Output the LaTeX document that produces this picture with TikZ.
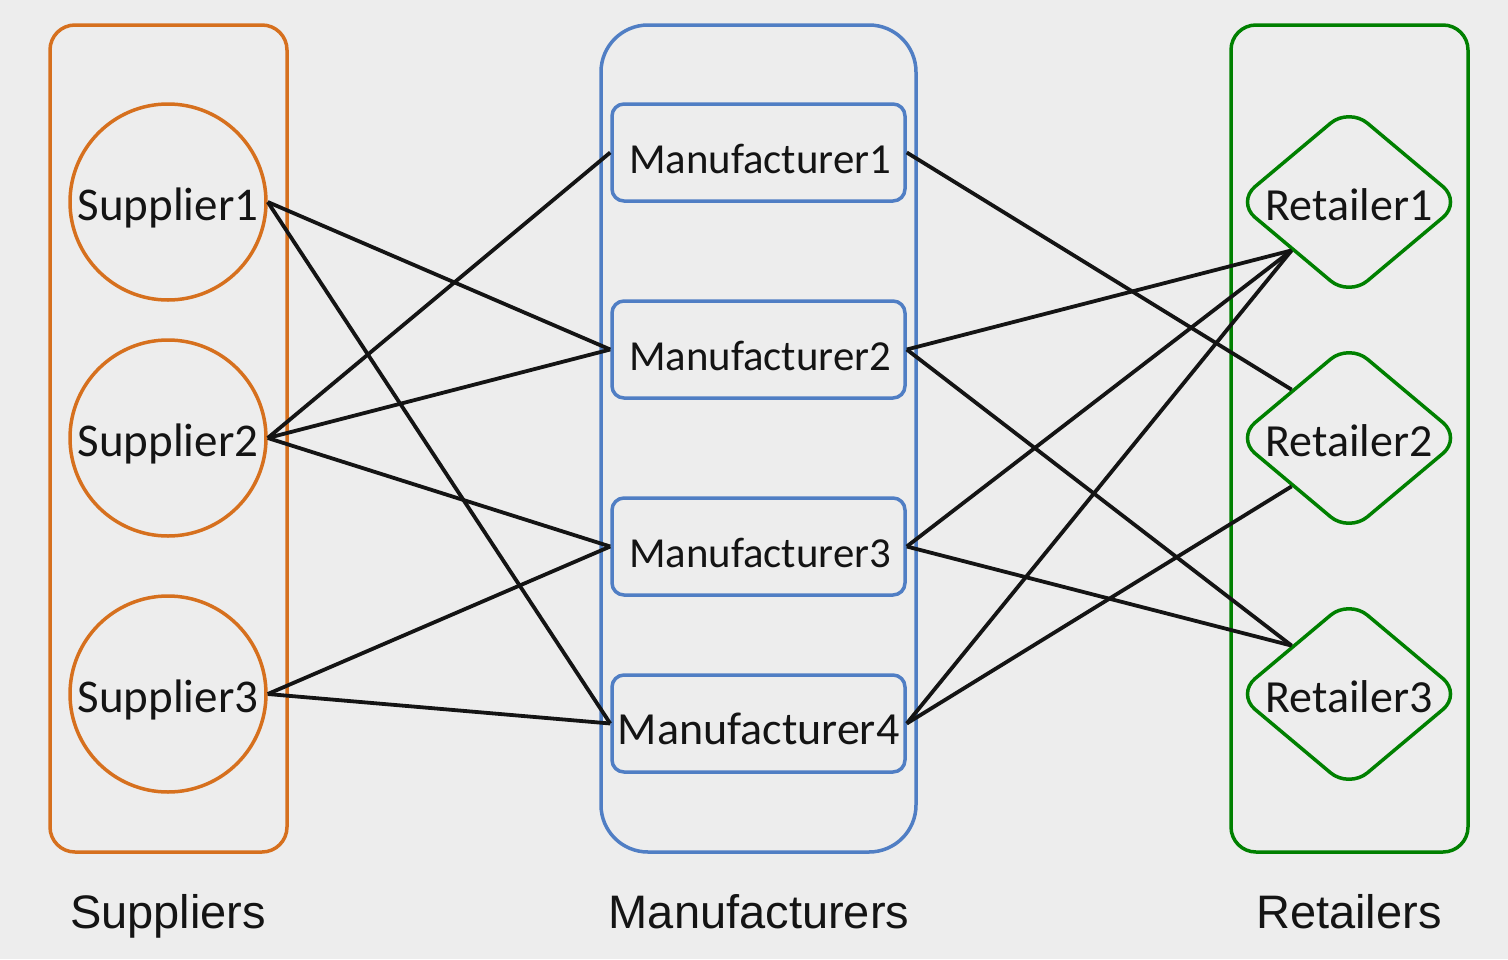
\documentclass[tikz,border=0pt]{standalone}
\usepackage{fontspec}
\setmainfont{Carlito}
\newfontfamily\labelfont{Liberation Sans}
\usepackage{xcolor}
\definecolor{bggrey}{RGB}{237,237,237}
\definecolor{inkblack}{RGB}{20,20,20}
\definecolor{suporange}{RGB}{214,112,30}
\definecolor{manblue}{RGB}{80,126,196}
\definecolor{retgreen}{RGB}{0,128,0}
\usetikzlibrary{positioning,shapes.geometric}

\begin{document}
\begin{tikzpicture}[
  x=1pt,y=-1pt,
  every node/.style={text=inkblack},
  groupbox/.style={draw,line width=3.5pt,minimum width=237pt,minimum height=827pt,inner sep=0pt},
  suppnode/.style={circle,draw=suporange,line width=3.5pt,minimum size=196pt,inner sep=0pt,
                   text height=36pt,text depth=0pt,font=\fontsize{47}{50}\selectfont},
  mannode/.style={draw=manblue,rounded corners=12pt,line width=3.5pt,minimum width=293pt,
                  minimum height=97pt,inner sep=0pt,text height=41pt,text depth=0pt,
                  font=\fontsize{42.8}{46}\selectfont},
  retnode/.style={diamond,draw=retgreen,rounded corners=24pt,line width=3.5pt,minimum width=226pt,
                  minimum height=190pt,inner sep=0pt,text height=36pt,text depth=0pt,
                  font=\fontsize{46}{50}\selectfont},
  grouplabel/.style={anchor=base,font=\labelfont\fontsize{47}{50}\selectfont},
  link/.style={draw=inkblack,line width=3.8pt},
]
  \fill[bggrey] (0,0) rectangle (1508,959);

  % Groups
  \node[groupbox,draw=suporange,rounded corners=25pt] (supgroup) at (168.5,438.5) {};
  \node[groupbox,draw=manblue,rounded corners=47pt,minimum width=315pt] (mangroup) at (758.5,438.5) {};
  \node[groupbox,draw=retgreen,rounded corners=25pt] (retgroup) at (1349.5,438.5) {};

  \node[grouplabel] (suplabel) at (168,928) {Suppliers};
  \node[grouplabel] (manlabel) at (759,928) {Manufacturers};
  \node[grouplabel] (retlabel) at (1349,928) {Retailers};

  % Suppliers
  \node[suppnode] (s1) at (168,202) {Supplier1};
  \node[suppnode] (s2) at (168,438) {Supplier2};
  \node[suppnode] (s3) at (168,694) {Supplier3};

  % Manufacturers
  \node[mannode] (m1) at (758.5,152.5) {\hspace{3pt}Manufacturer1};
  \node[mannode] (m2) at (758.5,349.5) {\hspace{3pt}Manufacturer2};
  \node[mannode] (m3) at (758.5,546.5) {\hspace{3pt}Manufacturer3};
  \node[mannode,font=\fontsize{46}{50}\selectfont,text height=41pt] (m4) at (758.5,723.5) {Manufacturer4};

  % Retailers
  \node[retnode] (r1) at (1349,202) {\makebox[0pt]{Retailer1}};
  \node[retnode] (r2) at (1349,438) {\makebox[0pt]{Retailer2}};
  \node[retnode] (r3) at (1349,694) {\makebox[0pt]{Retailer3}};

  % Supply links
  \draw[link] (s1.east) -- (m2.west);
  \draw[link] (s1.east) -- (m4.west);
  \draw[link] (s2.east) -- (m1.west);
  \draw[link] (s2.east) -- (m2.west);
  \draw[link] (s2.east) -- (m3.west);
  \draw[link] (s3.east) -- (m3.west);
  \draw[link] (s3.east) -- (m4.west);

  % Distribution links
  \draw[link] (m1.east) -- (r2.north west);
  \draw[link] (m2.east) -- (r1.south west);
  \draw[link] (m2.east) -- (r3.north west);
  \draw[link] (m3.east) -- (r1.south west);
  \draw[link] (m3.east) -- (r3.north west);
  \draw[link] (m4.east) -- (r1.south west);
  \draw[link] (m4.east) -- (r2.south west);
\end{tikzpicture}
\end{document}
